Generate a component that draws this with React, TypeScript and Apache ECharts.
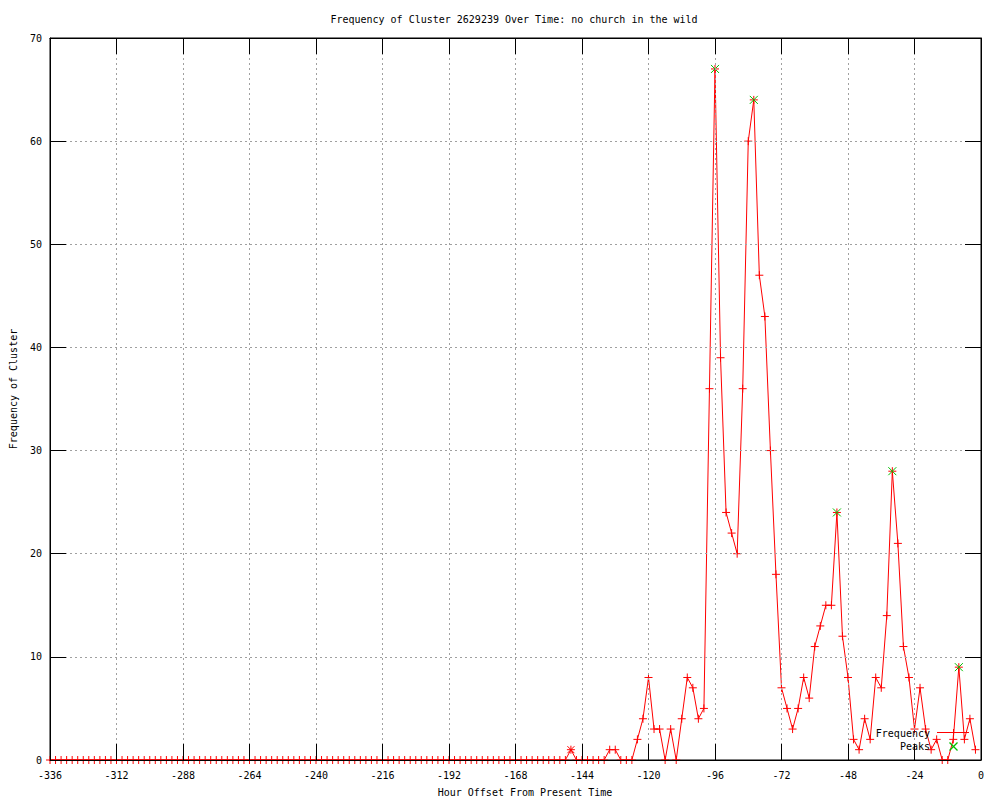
import React, { useEffect, useRef } from "react";
import * as echarts from "echarts";

const hours = [
  -336, -334, -332, -330, -328, -326, -324, -322, -320, -318, -316, -314,
  -312, -310, -308, -306, -304, -302, -300, -298, -296, -294, -292, -290,
  -288, -286, -284, -282, -280, -278, -276, -274, -272, -270, -268, -266,
  -264, -262, -260, -258, -256, -254, -252, -250, -248, -246, -244, -242,
  -240, -238, -236, -234, -232, -230, -228, -226, -224, -222, -220, -218,
  -216, -214, -212, -210, -208, -206, -204, -202, -200, -198, -196, -194,
  -192, -190, -188, -186, -184, -182, -180, -178, -176, -174, -172, -170,
  -168, -166, -164, -162, -160, -158, -156, -154, -152, -150, -148, -146,
  -144, -142, -140, -138, -136, -134, -132, -130, -128, -126, -124, -122,
  -120, -118, -116, -114, -112, -110, -108, -106, -104, -102, -100, -98,
  -96, -94, -92, -90, -88, -86, -84, -82, -80, -78, -76, -74,
  -72, -70, -68, -66, -64, -62, -60, -58, -56, -54, -52, -50,
  -48, -46, -44, -42, -40, -38, -36, -34, -32, -30, -28, -26,
  -24, -22, -20, -18, -16, -14, -12, -10, -8, -6, -4, -2,
];

const frequency = [
  0, 0, 0, 0, 0, 0, 0, 0, 0, 0, 0, 0,
  0, 0, 0, 0, 0, 0, 0, 0, 0, 0, 0, 0,
  0, 0, 0, 0, 0, 0, 0, 0, 0, 0, 0, 0,
  0, 0, 0, 0, 0, 0, 0, 0, 0, 0, 0, 0,
  0, 0, 0, 0, 0, 0, 0, 0, 0, 0, 0, 0,
  0, 0, 0, 0, 0, 0, 0, 0, 0, 0, 0, 0,
  0, 0, 0, 0, 0, 0, 0, 0, 0, 0, 0, 0,
  0, 0, 0, 0, 0, 0, 0, 0, 0, 0, 1, 0,
  0, 0, 0, 0, 0, 1, 1, 0, 0, 0, 2, 4,
  8, 3, 3, 0, 3, 0, 4, 8, 7, 4, 5, 36,
  67, 39, 24, 22, 20, 36, 60, 64, 47, 43, 30, 18,
  7, 5, 3, 5, 8, 6, 11, 13, 15, 15, 24, 12,
  8, 2, 1, 4, 2, 8, 7, 14, 28, 21, 11, 8,
  3, 7, 3, 1, 2, 0, 0, 2, 9, 2, 4, 1,
];

const peakHours = [-96, -82, -52, -32, -8];
const peakValues = [67, 64, 24, 28, 9];
const minorPeakHours = [-148];
const minorPeakValues = [1];

const titleText = "Frequency of Cluster 2629239 Over Time: no church in the wild";
const xAxisTitle = "Hour Offset From Present Time";
const yAxisTitle = "Frequency of Cluster";
const legendNames = ["Frequency", "Peaks"];

const FONT = "DejaVu Sans Mono";
const PLUS = "path://M0,5L10,5M5,0L5,10";
const CROSS = "path://M0,0L10,10M10,0L0,10";

export default function App() {
  const ref = useRef<HTMLDivElement>(null);
  useEffect(() => {
    if (!ref.current) return;
    const chart = echarts.init(ref.current, null, { renderer: "svg" });
    const freqData = hours.map((h, i) => [h, frequency[i]]);
    const peakData = peakHours.map((h, i) => [h, peakValues[i]]);
    const minorPeakData = minorPeakHours.map((h, i) => [h, minorPeakValues[i]]);
    const labelStyle = { color: "#000", fontFamily: FONT, fontSize: 10 };
    const split = { show: true, lineStyle: { color: "#a0a0a0", type: [2, 3] as any, width: 1 } };
    const tick = { show: true, inside: true, length: 16, lineStyle: { color: "#000", width: 1 } };
    const axisLine = { show: true, onZero: false, lineStyle: { color: "#000", width: 1 } };
    chart.setOption({
      animation: false,
      backgroundColor: "#fff",
      grid: { left: 50, right: 19, top: 38, bottom: 40, show: true, borderColor: "#000", borderWidth: 1 },
      xAxis: [
        {
          type: "value", min: -336, max: 0, interval: 24, position: "bottom", z: 5,
          axisLine, axisTick: tick, splitLine: split,
          axisLabel: { ...labelStyle, margin: 10 },
        },
        {
          type: "value", min: -336, max: 0, interval: 24, position: "top", z: 5,
          axisLine, axisTick: tick, splitLine: { show: false }, axisLabel: { show: false },
        },
      ],
      yAxis: [
        {
          type: "value", min: 0, max: 70, interval: 10, position: "left", z: 5,
          axisLine, axisTick: tick, splitLine: split,
          axisLabel: { ...labelStyle, margin: 8 },
        },
        {
          type: "value", min: 0, max: 70, interval: 10, position: "right", z: 5,
          axisLine, axisTick: tick, splitLine: { show: false }, axisLabel: { show: false },
        },
      ],
      series: [
        {
          name: legendNames[0], type: "line", data: freqData, clip: false,
          symbol: PLUS, symbolSize: 8, showSymbol: true,
          lineStyle: { color: "#ff0000", width: 1 },
          itemStyle: { color: "#ff0000", borderColor: "#ff0000", borderWidth: 1 },
          z: 3,
        },
        {
          name: legendNames[1], type: "line", data: peakData, clip: false,
          symbol: CROSS, symbolSize: 8, lineStyle: { width: 0, opacity: 0 },
          itemStyle: { color: "#00c000", borderColor: "#00c000", borderWidth: 1 },
          z: 4,
        },
        {
          name: "minor", type: "line", data: minorPeakData, clip: false,
          symbol: CROSS, symbolSize: 7, lineStyle: { width: 0, opacity: 0 },
          itemStyle: { color: "#ff0000", borderColor: "#ff0000", borderWidth: 1 },
          z: 4,
        },
      ],
      graphic: {
        elements: [
          { type: "text", x: 514, y: 19, style: { text: titleText, font: `10px ${FONT}`, fill: "#000", align: "center", verticalAlign: "middle" } },
          { type: "text", x: 525, y: 792, style: { text: xAxisTitle, font: `10px ${FONT}`, fill: "#000", align: "center", verticalAlign: "middle" } },
          { type: "text", x: 13, y: 389, rotation: Math.PI / 2, style: { text: yAxisTitle, font: `10px ${FONT}`, fill: "#000", align: "center", verticalAlign: "middle" } },
          { type: "text", x: 930, y: 733, z: 100, style: { text: legendNames[0], font: `10px ${FONT}`, fill: "#000", align: "right", verticalAlign: "middle" } },
          { type: "rect", z: 100, shape: { x: 937, y: 732, width: 32, height: 1 }, style: { fill: "#ff0000" } },
          { type: "rect", z: 100, shape: { x: 953, y: 729, width: 1, height: 8 }, style: { fill: "#ff0000" } },
          { type: "rect", z: 100, shape: { x: 949, y: 732, width: 9, height: 1 }, style: { fill: "#ff0000" } },
          { type: "text", x: 930, y: 746, z: 100, style: { text: legendNames[1], font: `10px ${FONT}`, fill: "#000", align: "right", verticalAlign: "middle" } },
          { type: "line", z: 100, shape: { x1: 949.5, y1: 742.5, x2: 957.5, y2: 750.5 }, style: { stroke: "#00c000", lineWidth: 1.2 } },
          { type: "line", z: 100, shape: { x1: 957.5, y1: 742.5, x2: 949.5, y2: 750.5 }, style: { stroke: "#00c000", lineWidth: 1.2 } },
        ],
      },
    });
    return () => chart.dispose();
  }, []);
  return <div ref={ref} style={{ position: "absolute", left: 0, top: 0, width: 1000, height: 800, background: "#fff" }} />;
}
